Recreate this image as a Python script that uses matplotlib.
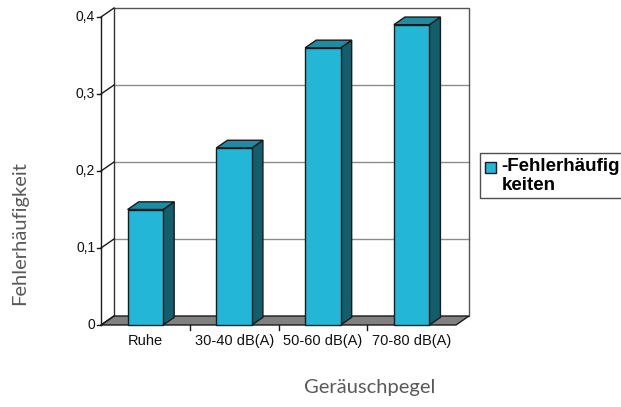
import matplotlib
matplotlib.use("Agg")
import matplotlib.pyplot as plt
from matplotlib.patches import Polygon, Patch, Rectangle
from matplotlib.legend_handler import HandlerPatch
import numpy as np

# Data
categories = ["Ruhe", "30-40 dB(A)", "50-60 dB(A)", "70-80 dB(A)"]
values = [0.15, 0.23, 0.36, 0.39]
y_ticks = [0, 0.1, 0.2, 0.3, 0.4]
y_tick_labels = ["0", "0,1", "0,2", "0,3", "0,4"]
series_name = "-Fehlerhäufig\nkeiten"
x_title = "Geräuschpegel"
y_title = "Fehlerhäufigkeit"

W, H = 621, 407
DPI = 100
fig = plt.figure(figsize=(W / DPI, H / DPI), dpi=DPI)
fig.patch.set_facecolor("white")

def fx(px):
    return px / W

def fy(py):
    return 1 - py / H

# front plane of the 3D plot area (pixels)
L, R, T, B = 101, 456, 17, 325
ax = fig.add_axes([fx(L), fy(B), fx(R) - fx(L), (B - T) / H])
ax.set_xlim(0, len(categories))
ax.set_ylim(0, 0.4)
ax.axis("off")

# depth offset of the back wall in display pixels, converted to data units
def depth(frac):
    p0 = ax.transData.transform((0, 0))
    p1 = ax.transData.inverted().transform(p0 + np.array([13.0, 9.0]) * frac)
    return p1[0], p1[1]

ddx, ddy = depth(1.0)
nx = len(categories)

front_c = "#24B6D7"
top_c = "#1C8CA2"
side_c = "#125E6C"
edge_c = "#1a1a1a"

# back wall
wall = Polygon([(ddx, ddy), (nx + ddx, ddy), (nx + ddx, 0.4 + ddy), (ddx, 0.4 + ddy)],
               closed=True, facecolor="white", edgecolor="none", zorder=1, clip_on=False)
ax.add_patch(wall)
for v in y_ticks[1:-1]:
    ax.plot([ddx, nx + ddx], [v + ddy, v + ddy], color="#8c8c8c", lw=1.0, zorder=2, clip_on=False)
ax.plot([ddx, nx + ddx, nx + ddx], [0.4 + ddy, 0.4 + ddy, ddy], color="#555555", lw=1.0,
        zorder=2, clip_on=False)
ax.plot([ddx, ddx], [ddy, 0.4 + ddy], color="#333333", lw=1.0, zorder=2, clip_on=False)

# floor
floor = Polygon([(0, 0), (nx, 0), (nx + ddx, ddy), (ddx, ddy)], closed=True,
                facecolor="#808080", edgecolor=edge_c, lw=1.0, zorder=3, clip_on=False)
ax.add_patch(floor)

# value axis: front line, ticks and depth connectors
ax.plot([0, 0], [0, 0.4], color=edge_c, lw=1.0, zorder=4, clip_on=False)
tick_dx = 4 * nx / (R - L)
for v, lab in zip(y_ticks, y_tick_labels):
    ax.plot([-tick_dx, 0], [v, v], color=edge_c, lw=1.0, zorder=4, clip_on=False)
    ax.plot([0, ddx], [v, v + ddy], color=edge_c, lw=1.0, zorder=4, clip_on=False)
    ax.text(-tick_dx - 0.02, v, lab, ha="right", va="center", fontsize=10,
            family="Liberation Sans", color="#111111")

# category ticks and labels
for i in range(1, nx):
    ax.plot([i, i], [0, -0.007], color=edge_c, lw=1.0, zorder=4, clip_on=False)
for i, c in enumerate(categories):
    ax.text(i + 0.5, -0.021, c, ha="center", va="center", fontsize=10.5,
            family="Liberation Sans", color="#111111")

# 3D columns
bw = 0.4
bd = 0.85
bdx, bdy = ddx * bd, ddy * bd
for i, v in enumerate(values):
    x0 = i + 0.5 - bw / 2
    x1 = x0 + bw
    side = Polygon([(x1, 0), (x1 + bdx, bdy), (x1 + bdx, v + bdy), (x1, v)], closed=True,
                   facecolor=side_c, edgecolor=edge_c, lw=1.0, zorder=5, clip_on=False)
    top = Polygon([(x0, v), (x1, v), (x1 + bdx, v + bdy), (x0 + bdx, v + bdy)], closed=True,
                  facecolor=top_c, edgecolor=edge_c, lw=1.0, zorder=5, clip_on=False)
    front = Polygon([(x0, 0), (x1, 0), (x1, v), (x0, v)], closed=True,
                    facecolor=front_c, edgecolor=edge_c, lw=1.0, zorder=6, clip_on=False)
    for p in (side, top, front):
        ax.add_patch(p)


class TopSquareHandler(HandlerPatch):
    """Legend key drawn as a small square aligned with the first text line."""

    def create_artists(self, legend, orig_handle, xdescent, ydescent, width, height,
                       fontsize, trans):
        s = 0.58 * fontsize
        y = -ydescent + height - s - 0.12 * fontsize
        p = Rectangle((-xdescent, y), s, s, facecolor=orig_handle.get_facecolor(),
                      edgecolor=orig_handle.get_edgecolor(), lw=1.0, transform=trans)
        return [p]


# legend
handle = Patch(facecolor=front_c, edgecolor=edge_c, lw=1.0)
leg = fig.legend([handle], [series_name], loc="upper left",
                 bbox_to_anchor=(fx(480), fy(153)), frameon=True, fancybox=False,
                 prop={"family": "Liberation Sans", "weight": "bold", "size": 13.5},
                 handlelength=0.6, handleheight=2.3, handletextpad=0.3,
                 borderpad=0.25, borderaxespad=0.0,
                 handler_map={Patch: TopSquareHandler()})
leg.get_frame().set_edgecolor("#222222")
leg.get_frame().set_linewidth(1.0)
for t in leg.get_texts():
    t.set_linespacing(1.15)

# axis titles
fig.text(fx(370), fy(388), x_title, ha="center", va="center", fontsize=14.5,
         family="Lato", color="#595959")
fig.text(fx(20), fy(233), y_title, ha="center", va="center", rotation=90, fontsize=14.5,
         family="Lato", color="#595959")

fig.savefig("out.png", dpi=DPI)
